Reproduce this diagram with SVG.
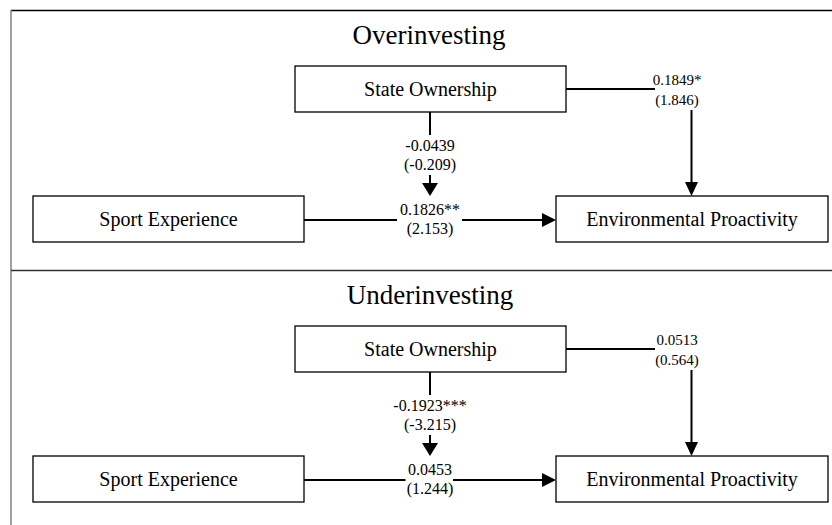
<svg xmlns="http://www.w3.org/2000/svg" width="832" height="525" viewBox="0 0 832 525">
<style>
.box{fill:#fff;stroke:#000;stroke-width:1.3}
.nt{font-family:"Liberation Serif","Times New Roman",serif;font-size:20px;text-anchor:middle;fill:#000}
.ttl{font-family:"Liberation Serif","Times New Roman",serif;font-size:27px;text-anchor:middle;fill:#000}
.lb{font-family:"Liberation Serif","Times New Roman",serif;font-size:16px;text-anchor:middle;fill:#000}
.lbr{font-family:"Liberation Serif","Times New Roman",serif;font-size:15px;text-anchor:middle;fill:#000}
.ln{stroke:#000;stroke-width:2;fill:none}
.ah{fill:#000}
</style>
<rect x="0" y="0" width="832" height="525" fill="#fff"/>
<g id="frame">
<line x1="11" y1="10.5" x2="832" y2="10.5" stroke="#000" stroke-width="1.3"/>
<line x1="11" y1="10" x2="11" y2="525" stroke="#808080" stroke-width="1.5"/>
<line x1="11" y1="270.5" x2="832" y2="270.5" stroke="#333" stroke-width="1.3"/>
</g>
<g id="title-over"><text class="ttl" x="429" y="44">Overinvesting</text></g>
<g id="title-under"><text class="ttl" x="430" y="304">Underinvesting</text></g>

<g id="over-state"><rect class="box" x="295" y="66" width="271" height="46"/><text class="nt" x="430.5" y="96">State Ownership</text></g>
<g id="over-sport"><rect class="box" x="33" y="196" width="271" height="46"/><text class="nt" x="168.5" y="226">Sport Experience</text></g>
<g id="over-env"><rect class="box" x="556" y="196" width="272" height="46"/><text class="nt" x="692" y="226">Environmental Proactivity</text></g>

<g id="under-state"><rect class="box" x="295" y="326" width="271" height="46"/><text class="nt" x="430.5" y="356">State Ownership</text></g>
<g id="under-sport"><rect class="box" x="33" y="456" width="271" height="46"/><text class="nt" x="168.5" y="486">Sport Experience</text></g>
<g id="under-env"><rect class="box" x="556" y="456" width="272" height="46"/><text class="nt" x="692" y="486">Environmental Proactivity</text></g>

<g id="connectors">
<!-- Overinvesting -->
<polyline class="ln" points="566,89 655,89"/>
<line class="ln" x1="691.5" y1="110" x2="691.5" y2="183"/>
<polygon class="ah" points="685,182 698,182 691.5,196"/>
<line class="ln" x1="430" y1="112" x2="430" y2="135"/>
<line class="ln" x1="430" y1="175" x2="430" y2="184"/>
<polygon class="ah" points="422,183 438,183 430,196"/>
<line class="ln" x1="304" y1="220" x2="397" y2="220"/>
<line class="ln" x1="462" y1="220" x2="543" y2="220"/>
<polygon class="ah" points="542,213 542,227 556,220"/>
<text class="lbr" x="677" y="85">0.1849*</text>
<text class="lbr" x="677" y="105">(1.846)</text>
<text class="lb" x="430" y="150.5">-0.0439</text>
<text class="lb" x="430" y="170">(-0.209)</text>
<text class="lb" x="430" y="214.5">0.1826**</text>
<text class="lb" x="430" y="234">(2.153)</text>
<!-- Underinvesting -->
<polyline class="ln" points="566,349 655,349"/>
<line class="ln" x1="691.5" y1="370" x2="691.5" y2="443"/>
<polygon class="ah" points="685,442 698,442 691.5,456"/>
<line class="ln" x1="430" y1="372" x2="430" y2="395"/>
<line class="ln" x1="430" y1="435" x2="430" y2="444"/>
<polygon class="ah" points="422,443 438,443 430,456"/>
<line class="ln" x1="304" y1="480" x2="405.5" y2="480"/>
<line class="ln" x1="453" y1="480" x2="543" y2="480"/>
<polygon class="ah" points="542,473 542,487 556,480"/>
<text class="lbr" x="677" y="345">0.0513</text>
<text class="lbr" x="677" y="365">(0.564)</text>
<text class="lb" x="430" y="410.5">-0.1923***</text>
<text class="lb" x="430" y="430">(-3.215)</text>
<text class="lb" x="430" y="474.5">0.0453</text>
<text class="lb" x="430" y="494">(1.244)</text>
</g>
</svg>
